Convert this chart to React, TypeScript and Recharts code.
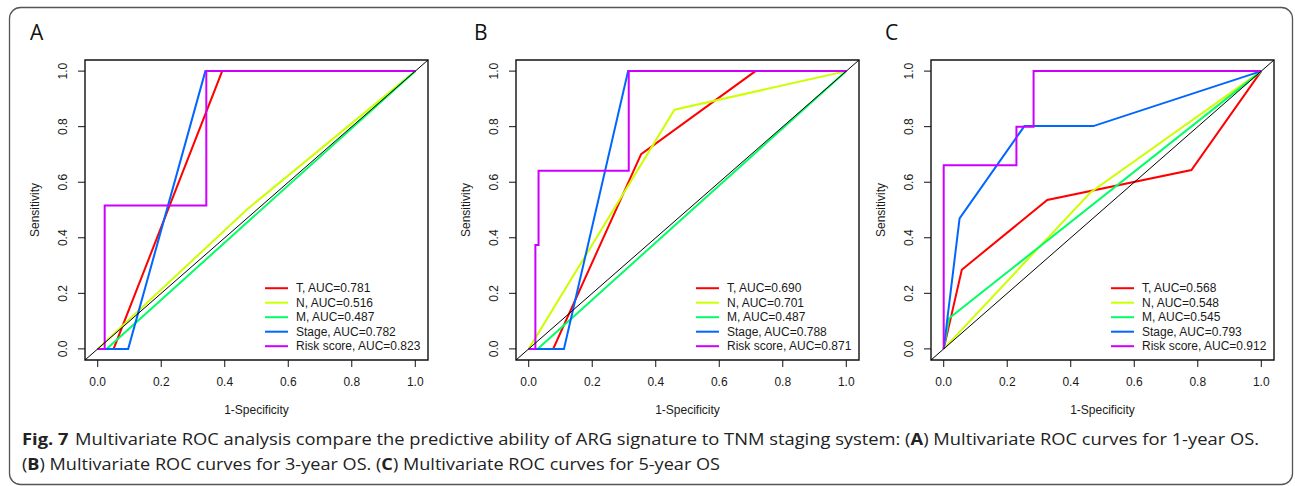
import React from 'react';
import { LineChart, Line, XAxis, YAxis, ReferenceArea, Legend } from 'recharts';

const SERIES = ['T', 'N', 'M', 'Stage', 'Risk score'];
const COLORS = ['#FF0000', '#CCFF00', '#00FF66', '#0066FF', '#CC00FF'];
const TICKS = [0, 0.2, 0.4, 0.6, 0.8, 1.0];
const DOMAIN = [-0.04, 1.04];
const FONT = '"Liberation Sans", Arial, sans-serif';

// curves are [1-specificity, sensitivity] points

// A: 1-year OS
const aucA = [0.781, 0.516, 0.487, 0.782, 0.823];
const rocA_T = [[0, 0], [0.05, 0], [0.392, 1], [1, 1]];
const rocA_N = [[0, 0], [0.47, 0.502], [1, 1]];
const rocA_M = [[0, 0], [0.028, 0], [1, 1]];
const rocA_Stage = [[0, 0], [0.096, 0], [0.339, 1], [1, 1]];
const rocA_Risk = [[0, 0], [0.022, 0], [0.022, 0.516], [0.342, 0.516], [0.342, 1], [1, 1]];

// B: 3-year OS
const aucB = [0.69, 0.701, 0.487, 0.788, 0.871];
const rocB_T = [[0, 0], [0.077, 0], [0.354, 0.701], [0.714, 1], [1, 1]];
const rocB_N = [[0, 0], [0.459, 0.861], [1, 1]];
const rocB_M = [[0, 0], [0.028, 0], [1, 1]];
const rocB_Stage = [[0, 0], [0.111, 0], [0.313, 1], [1, 1]];
const rocB_Risk = [[0, 0], [0.021, 0], [0.021, 0.374], [0.031, 0.374], [0.031, 0.641], [0.315, 0.641], [0.315, 1], [1, 1]];

// C: 5-year OS
const aucC = [0.568, 0.548, 0.545, 0.793, 0.912];
const rocC_T = [[0, 0], [0.057, 0.285], [0.326, 0.536], [0.78, 0.644], [1, 1]];
const rocC_N = [[0, 0], [0.462, 0.563], [1, 1]];
const rocC_M = [[0, 0], [0.017, 0.11], [1, 1]];
const rocC_Stage = [[0, 0], [0.05, 0.47], [0.254, 0.802], [0.471, 0.802], [1, 1]];
const rocC_Risk = [[0, 0], [0, 0.661], [0.229, 0.661], [0.229, 0.8], [0.283, 0.8], [0.283, 1], [1, 1]];

const chance = [[-0.04, -0.04], [1.04, 1.04]];

const toPts = (arr: number[][]) => arr.map(([x, y]) => ({ x, y }));

const PLOT_W = 343;
const Y_AXIS_W = 60;

const panels = [
  { letter: 'A', left: 0, plotLeft: 85, auc: aucA, curves: [rocA_T, rocA_N, rocA_M, rocA_Stage, rocA_Risk] },
  { letter: 'B', left: 430, plotLeft: 516, auc: aucB, curves: [rocB_T, rocB_N, rocB_M, rocB_Stage, rocB_Risk] },
  { letter: 'C', left: 860, plotLeft: 931, auc: aucC, curves: [rocC_T, rocC_N, rocC_M, rocC_Stage, rocC_Risk] },
];

const YTick = (props: any) => {
  const { x, y, payload } = props;
  const cx = x - 13;
  return (
    <text x={cx} y={y} transform={`rotate(-90, ${cx}, ${y})`} textAnchor="middle" dominantBaseline="central"
      fontSize={12} fill="#1a1a1a" fontFamily={FONT}>
      {payload.value.toFixed(1)}
    </text>
  );
};

const XTitle = (props: any) => {
  const { x, width } = props.viewBox;
  return (
    <text x={x + width / 2} y={413.5} textAnchor="middle" fontSize={12} fill="#1a1a1a" fontFamily={FONT}>
      1-Specificity
    </text>
  );
};

const YTitle = (props: any) => {
  const { x, y, width, height } = props.viewBox;
  const cx = x + width - 50;
  const cy = y + height / 2;
  return (
    <text x={cx} y={cy} transform={`rotate(-90, ${cx}, ${cy})`} textAnchor="middle" dominantBaseline="central"
      fontSize={12} fill="#1a1a1a" fontFamily={FONT}>
      Sensitivity
    </text>
  );
};

function RocLegend({ auc }: { auc: number[] }) {
  return (
    <svg width={175} height={75} style={{ display: 'block' }}>
      {SERIES.map((name, i) => {
        const cy = 7.2 + i * 14.5;
        return (
          <g key={name}>
            <line x1={0} x2={23} y1={cy} y2={cy} stroke={COLORS[i]} strokeWidth={2} />
            <text x={31} y={cy} dominantBaseline="central" fontSize={12} fill="#1a1a1a" fontFamily={FONT}>
              {`${name}, AUC=${auc[i].toFixed(3)}`}
            </text>
          </g>
        );
      })}
    </svg>
  );
}

function RocPanel({ panel }: { panel: typeof panels[number] }) {
  const width = 430;
  const rel = panel.plotLeft - panel.left;
  return (
    <div style={{ position: 'absolute', left: panel.left, top: 0 }}>
      <LineChart
        width={width}
        height={420}
        margin={{ top: 60, right: width - rel - PLOT_W, bottom: 10, left: rel - Y_AXIS_W }}
      >
        <XAxis
          type="number"
          dataKey="x"
          domain={DOMAIN}
          ticks={TICKS}
          allowDataOverflow
          axisLine={false}
          tickSize={7}
          tickMargin={10}
          height={50}
          tickLine={{ stroke: '#111' }}
          tick={{ fill: '#1a1a1a', fontSize: 12, fontFamily: FONT }}
          tickFormatter={(v: number) => v.toFixed(1)}
          label={{ content: XTitle }}
        />
        <YAxis
          type="number"
          dataKey="y"
          domain={DOMAIN}
          ticks={TICKS}
          allowDataOverflow
          axisLine={false}
          tickSize={7}
          width={Y_AXIS_W}
          tickLine={{ stroke: '#111' }}
          tick={<YTick />}
          label={{ content: YTitle }}
        />
        <ReferenceArea x1={DOMAIN[0]} x2={DOMAIN[1]} y1={DOMAIN[0]} y2={DOMAIN[1]}
          fill="none" fillOpacity={0} stroke="#111" strokeWidth={1.4} strokeOpacity={1} ifOverflow="visible" />
        {panel.curves.map((c, i) => (
          <Line key={SERIES[i]} data={toPts(c)} dataKey="y" type="linear" stroke={COLORS[i]} strokeWidth={2}
            dot={false} activeDot={false} isAnimationActive={false} />
        ))}
        <Line data={toPts(chance)} dataKey="y" type="linear" stroke="#000" strokeWidth={1}
          dot={false} activeDot={false} isAnimationActive={false} legendType="none" />
        <Legend
          layout="vertical"
          align="center"
          verticalAlign="middle"
          content={() => <RocLegend auc={panel.auc} />}
          wrapperStyle={{ left: rel + 180, top: 280.5, width: 175, height: 75 }}
        />
      </LineChart>
    </div>
  );
}

export default function App() {
  return (
    <div style={{ position: 'absolute', left: 0, top: 0, width: 1295, height: 486, background: '#fff', overflow: 'hidden' }}>
      <svg width={1295} height={486} style={{ position: 'absolute', left: 0, top: 0 }}>
        <rect x={9.5} y={7.5} width={1283} height={477} rx={11} fill="none" stroke="#555" strokeWidth={1.3} />
        {panels.map((p, i) => (
          <text key={p.letter} x={[30, 474, 885][i]} y={40} fontSize={21} fill="#111" fontFamily='"Open Sans", sans-serif'>
            {p.letter}
          </text>
        ))}
        <text x={22} y={445} fontSize={16.5} fill="#222" fontFamily='"Open Sans", sans-serif'
          textLength={1237} lengthAdjust="spacingAndGlyphs">
          <tspan fontWeight={700}>Fig. 7</tspan>
          <tspan dx={6}>Multivariate ROC analysis compare the predictive ability of ARG signature to TNM staging system: (</tspan>
          <tspan fontWeight={700}>A</tspan>
          <tspan>) Multivariate ROC curves for 1-year OS.</tspan>
        </text>
        <text x={22} y={470} fontSize={16.5} fill="#222" fontFamily='"Open Sans", sans-serif'
          textLength={698} lengthAdjust="spacingAndGlyphs">
          <tspan>(</tspan>
          <tspan fontWeight={700}>B</tspan>
          <tspan>) Multivariate ROC curves for 3-year OS. (</tspan>
          <tspan fontWeight={700}>C</tspan>
          <tspan>) Multivariate ROC curves for 5-year OS</tspan>
        </text>
      </svg>
      {panels.map((p) => (
        <RocPanel key={p.letter} panel={p} />
      ))}
    </div>
  );
}
